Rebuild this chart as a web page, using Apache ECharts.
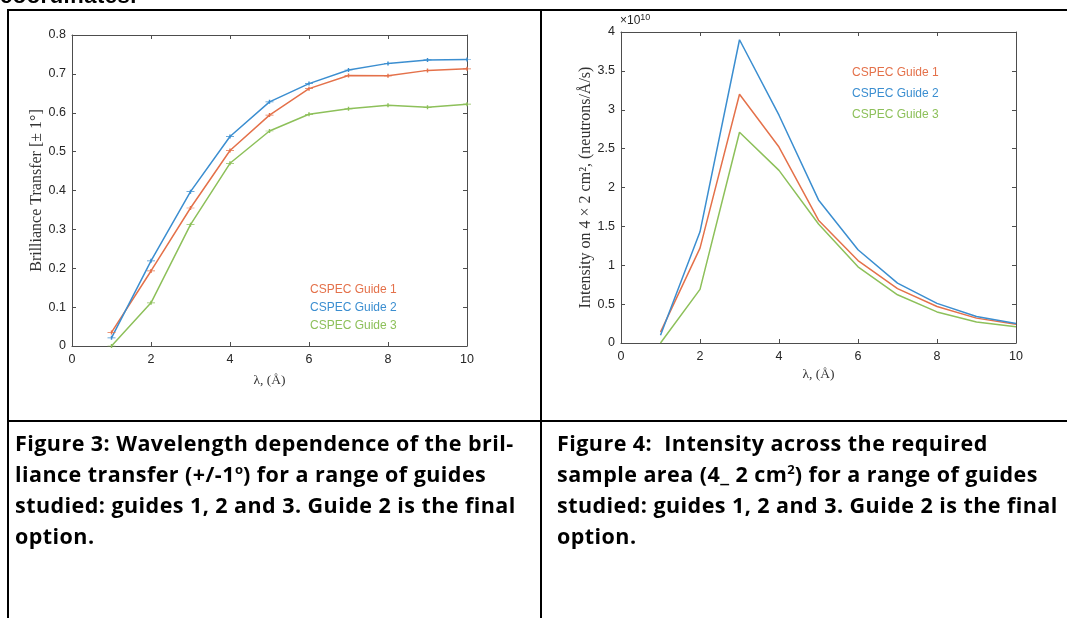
<!DOCTYPE html>
<html>
<head>
<meta charset="utf-8">
<script src="https://cdn.jsdelivr.net/npm/echarts@6/dist/echarts.min.js"></script>
<style>
body { margin:0; width:1067px; height:618px; overflow:hidden; background:#fff; position:relative; font-family:"Liberation Sans", sans-serif; }
#chart { position:absolute; left:0; top:0; width:1067px; height:618px; }
.line { position:absolute; background:#000; }
.cap { position:absolute; top:427px; font-family:"Open Sans", sans-serif; font-weight:bold; font-size:21.5px; letter-spacing:0.45px; line-height:31px; color:#000; white-space:nowrap; }
.cap sup { font-size:13px; line-height:0; letter-spacing:0; }
.top { position:absolute; left:0; top:-15px; font-weight:bold; font-size:22px; line-height:22px; letter-spacing:0.5px; }
</style>
</head>
<body>
<div id="chart"></div>
<div class="top">coordinates.</div>
<div class="line" style="left:7px;top:9px;width:1060px;height:2px"></div>
<div class="line" style="left:7px;top:9px;width:2px;height:609px"></div>
<div class="line" style="left:540px;top:9px;width:2px;height:609px"></div>
<div class="line" style="left:7px;top:420px;width:1060px;height:2px"></div>
<div class="cap" style="left:15px">Figure 3: Wavelength dependence of the bril-<br>liance transfer (+/-1<sup>o</sup>) for a range of guides<br>studied: guides 1, 2 and 3. Guide 2 is the final<br>option.</div>
<div class="cap" style="left:557px">Figure 4:&nbsp; Intensity across the required<br>sample area (4_ 2 cm<sup>2</sup>) for a range of guides<br>studied: guides 1, 2 and 3. Guide 2 is the final<br>option.</div>
<script>
var lambda = [1, 2, 3, 4, 5, 6, 7, 8, 9, 10];
var guideNames = ['CSPEC Guide 1', 'CSPEC Guide 2', 'CSPEC Guide 3'];
var guideColors = ['#E4714A', '#3B8ED0', '#8DC05A'];

// brilliance transfer
var brill1 = [0.035, 0.193, 0.355, 0.503, 0.594, 0.662, 0.696, 0.695, 0.709, 0.713];
var brill2 = [0.021, 0.219, 0.397, 0.539, 0.628, 0.675, 0.710, 0.727, 0.736, 0.737];
var brill3 = [0.000, 0.111, 0.312, 0.470, 0.553, 0.596, 0.610, 0.619, 0.614, 0.622];

// intensity, x 10^10
var inten1 = [0.14, 1.22, 3.20, 2.52, 1.58, 1.06, 0.70, 0.47, 0.32, 0.24];
var inten2 = [0.10, 1.43, 3.90, 2.93, 1.84, 1.20, 0.77, 0.51, 0.34, 0.25];
var inten3 = [0.00, 0.69, 2.71, 2.22, 1.53, 0.98, 0.62, 0.40, 0.27, 0.21];

var myChart;
document.addEventListener("DOMContentLoaded", function() {
    initChart();
});

function pairs(ys) {
    return lambda.map(function (x, i) { return [x, ys[i]]; });
}

function initChart() {
    myChart = echarts.init(document.getElementById('chart'));
    var axisLine = { onZero: false, lineStyle: { color: '#4d4d4d', width: 1 } };
    var tick = { inside: true, length: 4, lineStyle: { color: '#4d4d4d' } };
    var label = { color: '#262626', fontSize: 12.5, fontFamily: 'Liberation Sans' };
    var titleFont = { color: '#333', fontSize: 13.5, fontFamily: 'Liberation Serif' };
    var yTitleFont = { color: '#333', fontSize: 16, fontFamily: 'Liberation Serif' };

    function xAx(grid, pos, show) {
        return {
            type: 'value', gridIndex: grid, position: pos, min: 0, max: 10, interval: 2,
            axisLine: axisLine, axisTick: tick, splitLine: { show: false },
            axisLabel: Object.assign({ show: show, margin: 7 }, label)
        };
    }
    function yAx(grid, pos, max, step, show) {
        return {
            type: 'value', gridIndex: grid, position: pos, min: 0, max: max, interval: step,
            axisLine: axisLine, axisTick: tick, splitLine: { show: false },
            axisLabel: Object.assign({ show: show, margin: 6 }, label)
        };
    }

    var errSym = 'path://M0,3 L8,3 M4,1 L4,5';
    function brillSeries(name, ys, c) {
        return {
            name: name, type: 'line', xAxisIndex: 0, yAxisIndex: 0, data: pairs(ys),
            symbol: errSym, symbolSize: [8, 4], showSymbol: true,
            lineStyle: { color: c, width: 1.5 },
            itemStyle: { color: c, borderColor: c, borderWidth: 1 }
        };
    }
    function intenSeries(name, ys, c) {
        return {
            name: name, type: 'line', xAxisIndex: 2, yAxisIndex: 2, data: pairs(ys),
            showSymbol: false, lineStyle: { color: c, width: 1.5 }, itemStyle: { color: c }
        };
    }
    var legendData = guideNames.map(function (n, i) {
        return { name: n, textStyle: { color: guideColors[i] } };
    });

    var option = {
        animation: false,
        grid: [
            { left: 72, top: 35, width: 395, height: 311 },
            { left: 621, top: 32, width: 395, height: 311 }
        ],
        legend: [
            { data: legendData, orient: 'vertical', left: 299, top: 279, itemWidth: 0, itemHeight: 0, itemGap: 6,
              textStyle: { fontSize: 12, fontFamily: 'Liberation Sans' }, selectedMode: false },
            { data: legendData, orient: 'vertical', left: 841, top: 62, itemWidth: 0, itemHeight: 0, itemGap: 9,
              textStyle: { fontSize: 12, fontFamily: 'Liberation Sans' }, selectedMode: false }
        ],
        xAxis: [
            Object.assign(xAx(0, 'bottom', true), { name: 'λ, (Å)', nameLocation: 'middle', nameGap: 27, nameTextStyle: titleFont }),
            xAx(0, 'top', false),
            Object.assign(xAx(1, 'bottom', true), { name: 'λ, (Å)', nameLocation: 'middle', nameGap: 23, nameTextStyle: titleFont }),
            xAx(1, 'top', false)
        ],
        yAxis: [
            Object.assign(yAx(0, 'left', 0.8, 0.1, true),
                { name: 'Brilliance Transfer [± 1°]', nameLocation: 'middle', nameGap: 26, nameTextStyle: yTitleFont }),
            yAx(0, 'right', 0.8, 0.1, false),
            Object.assign(yAx(1, 'left', 4, 0.5, true),
                { name: 'Intensity on 4 × 2 cm², (neutrons/Å/s)', nameLocation: 'middle', nameGap: 26, nameTextStyle: yTitleFont }),
            yAx(1, 'right', 4, 0.5, false)
        ],
        graphic: [
            { type: 'text', left: 620, top: 13,
              style: { text: '×10{s|10}', fill: '#262626', font: '12px "Liberation Sans"',
                       rich: { s: { fontSize: 9, verticalAlign: 'top', padding: [0, 0, 6, 0] } } } }
        ],
        series: [
            brillSeries(guideNames[0], brill1, guideColors[0]),
            brillSeries(guideNames[1], brill2, guideColors[1]),
            brillSeries(guideNames[2], brill3, guideColors[2]),
            intenSeries(guideNames[0], inten1, guideColors[0]),
            intenSeries(guideNames[1], inten2, guideColors[1]),
            intenSeries(guideNames[2], inten3, guideColors[2])
        ]
    };
    myChart.setOption(option);
}
</script>
</body>
</html>
